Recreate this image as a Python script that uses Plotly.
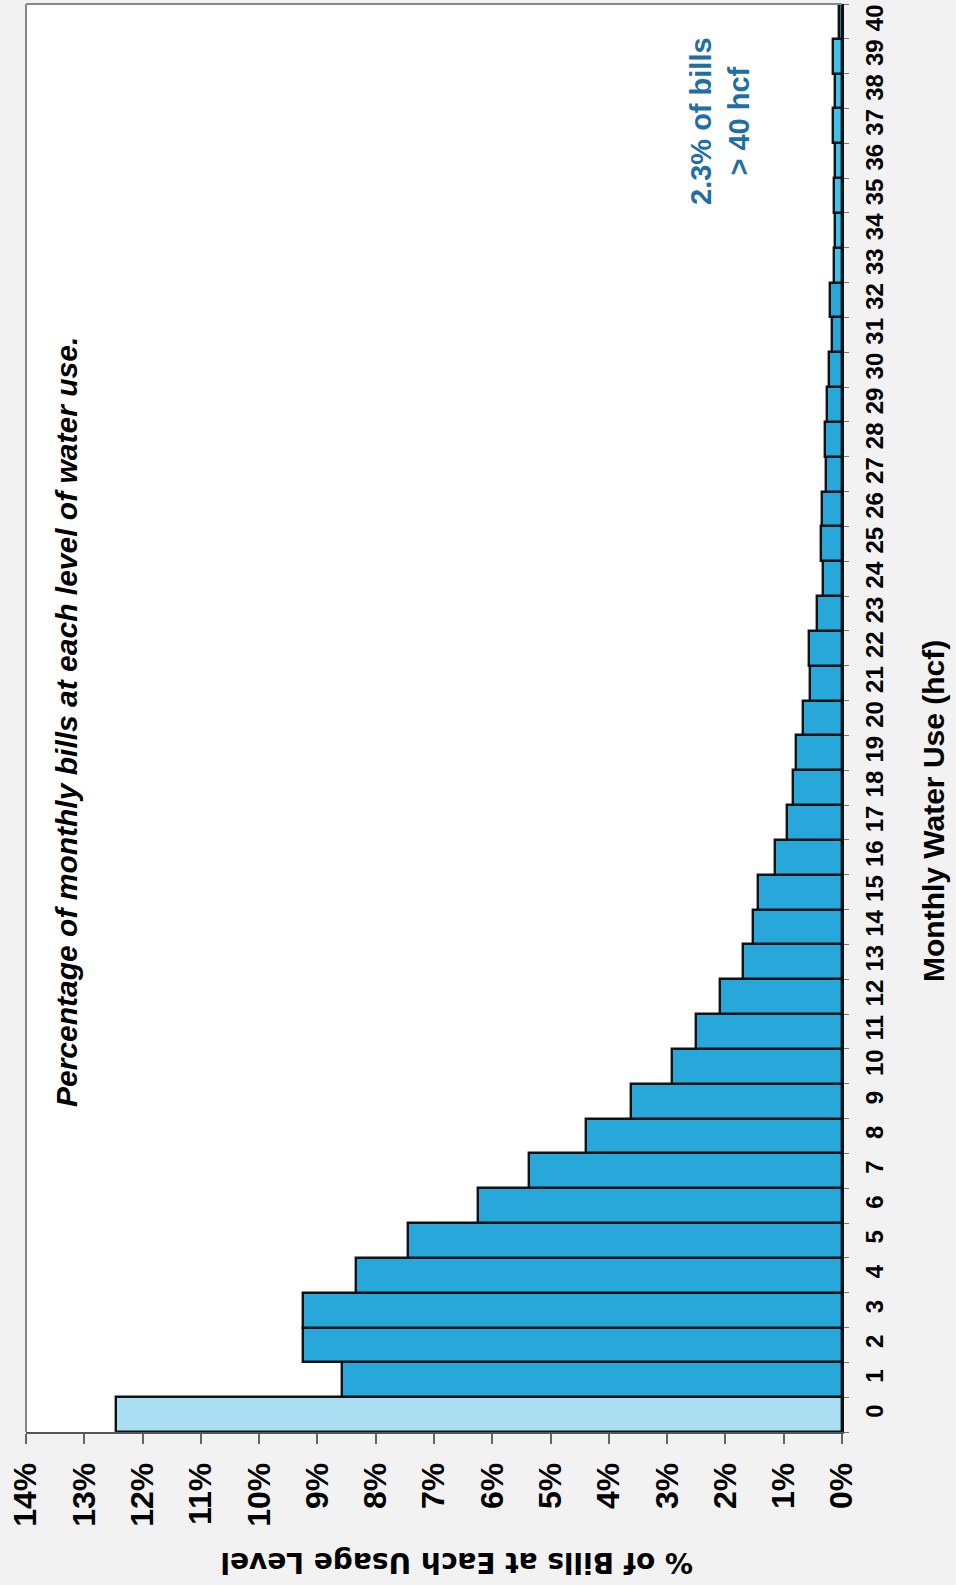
import plotly.graph_objects as go

# Monthly water use levels (hcf) and share of monthly bills at each level (%)
usage_levels = [str(i) for i in range(41)]
bill_share = [12.46, 8.57, 9.24, 9.25, 8.34, 7.44, 6.25, 5.37, 4.39, 3.62,
              2.91, 2.50, 2.10, 1.70, 1.53, 1.44, 1.15, 0.95, 0.84, 0.79,
              0.67, 0.55, 0.57, 0.43, 0.33, 0.36, 0.34, 0.27, 0.29, 0.26,
              0.22, 0.17, 0.20, 0.14, 0.12, 0.13, 0.12, 0.15, 0.12, 0.15,
              0.05]
pct_ticks = list(range(0, 15))
pct_labels = [f"{v}%" for v in pct_ticks]

# zero-use bills light, 33+ hcf bright cyan, the rest standard blue
bar_colors = (["#aadef3"] + ["#27a7da"] * 32 + ["#3ec3ef"] * 8)

W, H = 956, 1585
L, R, T, B = 26, 842, 4, 1432


def px(x):
    return (x - L) / (R - L)


def py(y):
    return (B - y) / (B - T)


fig = go.Figure()
fig.add_trace(go.Bar(
    x=bill_share,
    y=usage_levels,
    orientation="h",
    marker=dict(color=bar_colors, line=dict(color="#111111", width=2.4)),
    hoverinfo="x+y",
))

fig.update_layout(
    width=W, height=H,
    margin=dict(l=L, r=W - R, t=T, b=H - B, pad=0),
    paper_bgcolor="#f2f2f2",
    plot_bgcolor="white",
    bargap=0,
    showlegend=False,
    font=dict(family="Liberation Sans, Arial, sans-serif", color="black"),
    xaxis=dict(
        range=[14, 0],
        tickvals=pct_ticks,
        ticktext=pct_labels,
        tickangle=-90,
        ticks="outside", ticklen=10, tickwidth=2, tickcolor="#666666",
        tickfont=dict(size=32, weight="bold", color="black"),
        ticklabelstandoff=6,
        showgrid=False, zeroline=False,
        showline=True, linecolor="#555555", linewidth=2,
        fixedrange=True,
    ),
    yaxis=dict(
        type="category",
        categoryorder="array", categoryarray=usage_levels,
        range=[-0.5, 40.5],
        side="right",
        tickangle=-90,
        tickson="boundaries",
        ticks="outside", ticklen=5, tickwidth=1, tickcolor="#777777",
        tickfont=dict(size=24, weight="bold", color="black"),
        ticklabelstandoff=10,
        showgrid=False, zeroline=False,
        showline=True, linecolor="#111111", linewidth=2,
        fixedrange=True,
    ),
)

# grey frame on the open sides of the plot area
fig.add_shape(type="line", xref="paper", yref="paper", x0=0, x1=0, y0=0, y1=1,
              line=dict(color="#888888", width=2))
fig.add_shape(type="line", xref="paper", yref="paper", x0=0, x1=1, y0=1, y1=1,
              line=dict(color="#888888", width=2))

# subtitle inside the plot
fig.add_annotation(
    x=px(66), y=py(722), xref="paper", yref="paper",
    text="Percentage of monthly bills at each level of water use.",
    textangle=-90, showarrow=False, xanchor="center", yanchor="middle",
    font=dict(size=30, weight="bold", style="italic", color="black"),
)

# note about bills above 40 hcf
fig.add_annotation(
    x=px(720), y=py(121), xref="paper", yref="paper",
    text="2.3% of bills<br>&gt; 40 hcf",
    textangle=-90, showarrow=False, xanchor="center", yanchor="middle",
    align="center",
    font=dict(size=29, weight="bold", color="#1f6fa3"),
)

# category axis title
fig.add_annotation(
    x=px(933), y=py(811), xref="paper", yref="paper",
    text="Monthly Water Use (hcf)",
    textangle=-90, showarrow=False, xanchor="center", yanchor="middle",
    font=dict(size=30, weight="bold", color="black"),
)

# value axis title
fig.add_annotation(
    x=px(457), y=py(1562), xref="paper", yref="paper",
    text="% of Bills at Each Usage Level",
    textangle=180, showarrow=False, xanchor="center", yanchor="middle",
    font=dict(family="DejaVu Sans", size=28, weight="bold", color="black"),
)

fig.write_html("out.html")
